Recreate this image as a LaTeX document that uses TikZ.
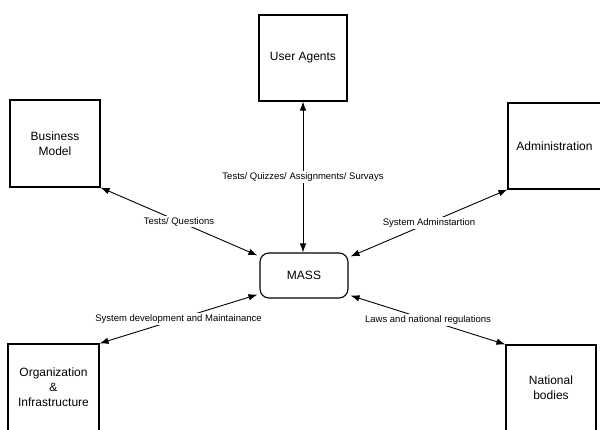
\documentclass[tikz,border=0pt]{standalone}
\usepackage{fontspec}
\setmainfont{Liberation Sans}
\usetikzlibrary{arrows.meta}
\begin{document}
\begin{tikzpicture}[x=1pt,y=-1pt,
  box/.style={draw, line width=1.1pt, inner sep=0pt, align=center,
    font=\fontsize{12}{15}\selectfont},
  arr/.style={<->, line width=0.9pt, >={Latex[length=9pt,width=6.5pt]}},
  lab/.style={fill=white, inner sep=1.5pt, font=\fontsize{9.5}{11}\selectfont}]
\clip (0,0) rectangle (600,429);
\fill[white] (0,0) rectangle (600,429);
\node[box, minimum width=88pt, minimum height=86pt] (ua) at (303,58) {User Agents};
\node[box, minimum width=90pt, minimum height=87pt] (bm) at (55,143.5) {Business\\Model};
\node[box, minimum width=93pt, minimum height=86pt] (ad) at (554.5,146) {Administration};
\node[box, minimum width=91pt, minimum height=87pt] (org) at (53.5,387.5) {Organization\\\&\\Infrastructure};
\node[box, minimum width=90pt, minimum height=86pt] (nat) at (551,388) {National\\bodies};
\node[box, rounded corners=9pt, minimum width=88pt, minimum height=45pt] (mass) at (304,275.5) {MASS};
\draw[arr] (ua.south) -- node[lab]{Tests/ Quizzes/ Assignments/ Survays} (ua.south |- mass.north);
\draw[arr] (bm.south east) -- node[lab]{Tests/ Questions} ([xshift=-2pt,yshift=-3pt]mass.north west);
\draw[arr] (ad.south west) -- node[lab]{System Adminstartion} ([xshift=2pt,yshift=-4pt]mass.north east);
\draw[arr] (org.north east) -- node[lab]{System development and Maintainance} ([xshift=-2pt,yshift=4pt]mass.south west);
\draw[arr] (nat.north west) -- node[lab]{Laws and national regulations} ([xshift=2pt,yshift=3pt]mass.south east);
\end{tikzpicture}
\end{document}
